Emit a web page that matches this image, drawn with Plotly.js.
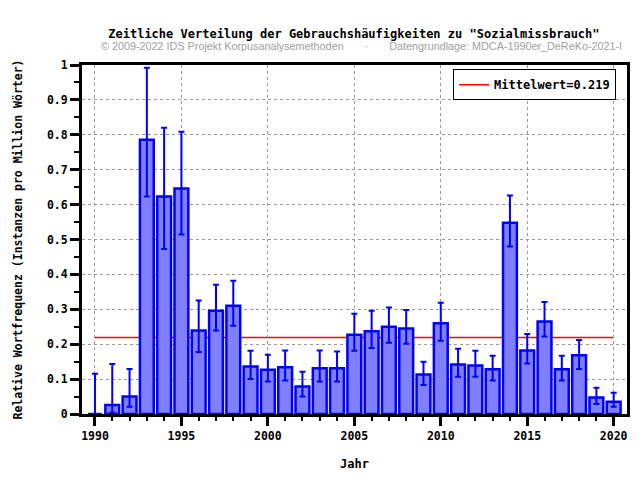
<!DOCTYPE html>
<html>
<head>
<meta charset="utf-8">
<script src="https://cdn.plot.ly/plotly-3.0.1.min.js"></script>
<style>
  body { margin: 0; background: #fff; }
  #myDiv { width: 640px; height: 480px; }
</style>
</head>
<body>
<div id="myDiv"></div>
<script>
// values
var years = [1990, 1991, 1992, 1993, 1994, 1995, 1996, 1997, 1998, 1999, 2000,
  2001, 2002, 2003, 2004, 2005, 2006, 2007, 2008, 2009, 2010,
  2011, 2012, 2013, 2014, 2015, 2016, 2017, 2018, 2019, 2020];
var freq = [0, 0.026, 0.050, 0.786, 0.623, 0.646, 0.239, 0.296, 0.310, 0.136, 0.127,
  0.134, 0.079, 0.131, 0.131, 0.227, 0.237, 0.250, 0.245, 0.113, 0.260,
  0.142, 0.139, 0.128, 0.548, 0.182, 0.265, 0.128, 0.168, 0.047, 0.035];
var upper = [0.115, 0.143, 0.129, 0.992, 0.820, 0.809, 0.325, 0.370, 0.382, 0.181, 0.170,
  0.182, 0.121, 0.182, 0.179, 0.287, 0.296, 0.305, 0.298, 0.150, 0.319,
  0.187, 0.181, 0.167, 0.626, 0.229, 0.321, 0.167, 0.212, 0.075, 0.061];
var lower = [0, 0.004, 0.021, 0.623, 0.473, 0.514, 0.178, 0.239, 0.253, 0.100, 0.093,
  0.096, 0.050, 0.093, 0.093, 0.181, 0.189, 0.204, 0.201, 0.083, 0.210,
  0.107, 0.107, 0.096, 0.480, 0.145, 0.222, 0.096, 0.129, 0.029, 0.021];
var meanValue = 0.219;
var meanX = [1990, 2020];

var mono = "DejaVu Sans Mono, monospace";

var errPlus = upper.map(function (u, i) { return u - freq[i]; });
var errMinus = lower.map(function (l, i) { return freq[i] - l; });

var data = [
  // legend entry only, the line itself is a shape below the bars
  {
    x: [null],
    y: [null],
    type: "scatter",
    mode: "lines",
    name: "Mittelwert=" + meanValue,
    line: { color: "#ff0000", width: 1.5 },
    hoverinfo: "skip"
  },
  {
    x: years,
    y: freq,
    type: "bar",
    width: 0.8,
    showlegend: false,
    marker: { color: "#8080ff", line: { color: "#0000ff", width: 2.5 } },
    error_y: {
      type: "data",
      symmetric: false,
      array: errPlus,
      arrayminus: errMinus,
      color: "#0000ff",
      thickness: 2,
      width: 3
    }
  }
];

var layout = {
  width: 640,
  height: 480,
  margin: { l: 82, r: 13, t: 65, b: 66 },
  paper_bgcolor: "#ffffff",
  plot_bgcolor: "#ffffff",
  title: {
    text: "Zeitliche Verteilung der Gebrauchshäufigkeiten zu \"Sozialmissbrauch\"",
    font: { family: mono, size: 12, color: "#000", weight: "bold" },
    x: 0.553, xanchor: "center",
    y: 0.93, yanchor: "middle"
  },
  annotations: [
    {
      text: "© 2009-2022 IDS Projekt Korpusanalysemethoden       ·       Datengrundlage: MDCA-1990er_DeReKo-2021-I",
      xref: "paper", yref: "paper",
      x: 0.513, y: 1.055,
      xanchor: "center", yanchor: "middle",
      showarrow: false,
      font: { family: "Liberation Sans, Arial, sans-serif", size: 10.8, color: "#a0a0a0" }
    }
  ],
  shapes: [
    {
      type: "line",
      layer: "below",
      xref: "x", yref: "y",
      x0: meanX[0], x1: meanX[1],
      y0: meanValue, y1: meanValue,
      line: { color: "#ff0000", width: 1.5 }
    }
  ],
  showlegend: true,
  legend: {
    x: 0.98, xanchor: "right",
    y: 0.988, yanchor: "top",
    bgcolor: "#ffffff",
    bordercolor: "#000000",
    borderwidth: 1,
    font: { family: mono, size: 12, color: "#000", weight: "bold" }
  },
  xaxis: {
    range: [1989.25, 2020.77],
    tickmode: "linear",
    tick0: 1990,
    dtick: 5,
    ticks: "outside",
    ticklen: 9,
    tickwidth: 3,
    tickcolor: "#000",
    minor: { dtick: 1, ticks: "outside", ticklen: 4, tickwidth: 2, tickcolor: "#000", showgrid: false },
    showline: true,
    linecolor: "#000",
    linewidth: 3,
    mirror: true,
    showgrid: true,
    gridcolor: "#999999",
    griddash: "dot",
    gridwidth: 1,
    zeroline: false,
    tickfont: { family: mono, size: 11.5, color: "#000", weight: "bold" },
    title: {
      text: "Jahr",
      font: { family: mono, size: 12, color: "#000", weight: "bold" },
      standoff: 18
    }
  },
  yaxis: {
    range: [0, 1],
    tickmode: "linear",
    tick0: 0,
    dtick: 0.1,
    ticks: "outside",
    ticklen: 9,
    tickwidth: 3,
    tickcolor: "#000",
    minor: { dtick: 0.05, ticks: "outside", ticklen: 5, tickwidth: 2, tickcolor: "#000", showgrid: false },
    showline: true,
    linecolor: "#000",
    linewidth: 3,
    mirror: true,
    showgrid: true,
    gridcolor: "#999999",
    griddash: "dot",
    gridwidth: 1,
    zeroline: false,
    tickfont: { family: mono, size: 11.5, color: "#000", weight: "bold" },
    title: {
      text: "Relative Wortfrequenz (Instanzen pro Million Wörter)",
      font: { family: mono, size: 11.5, color: "#000", weight: "bold" },
      standoff: 22
    }
  }
};

Plotly.newPlot("myDiv", data, layout, { displayModeBar: false, staticPlot: true });
</script>
</body>
</html>
